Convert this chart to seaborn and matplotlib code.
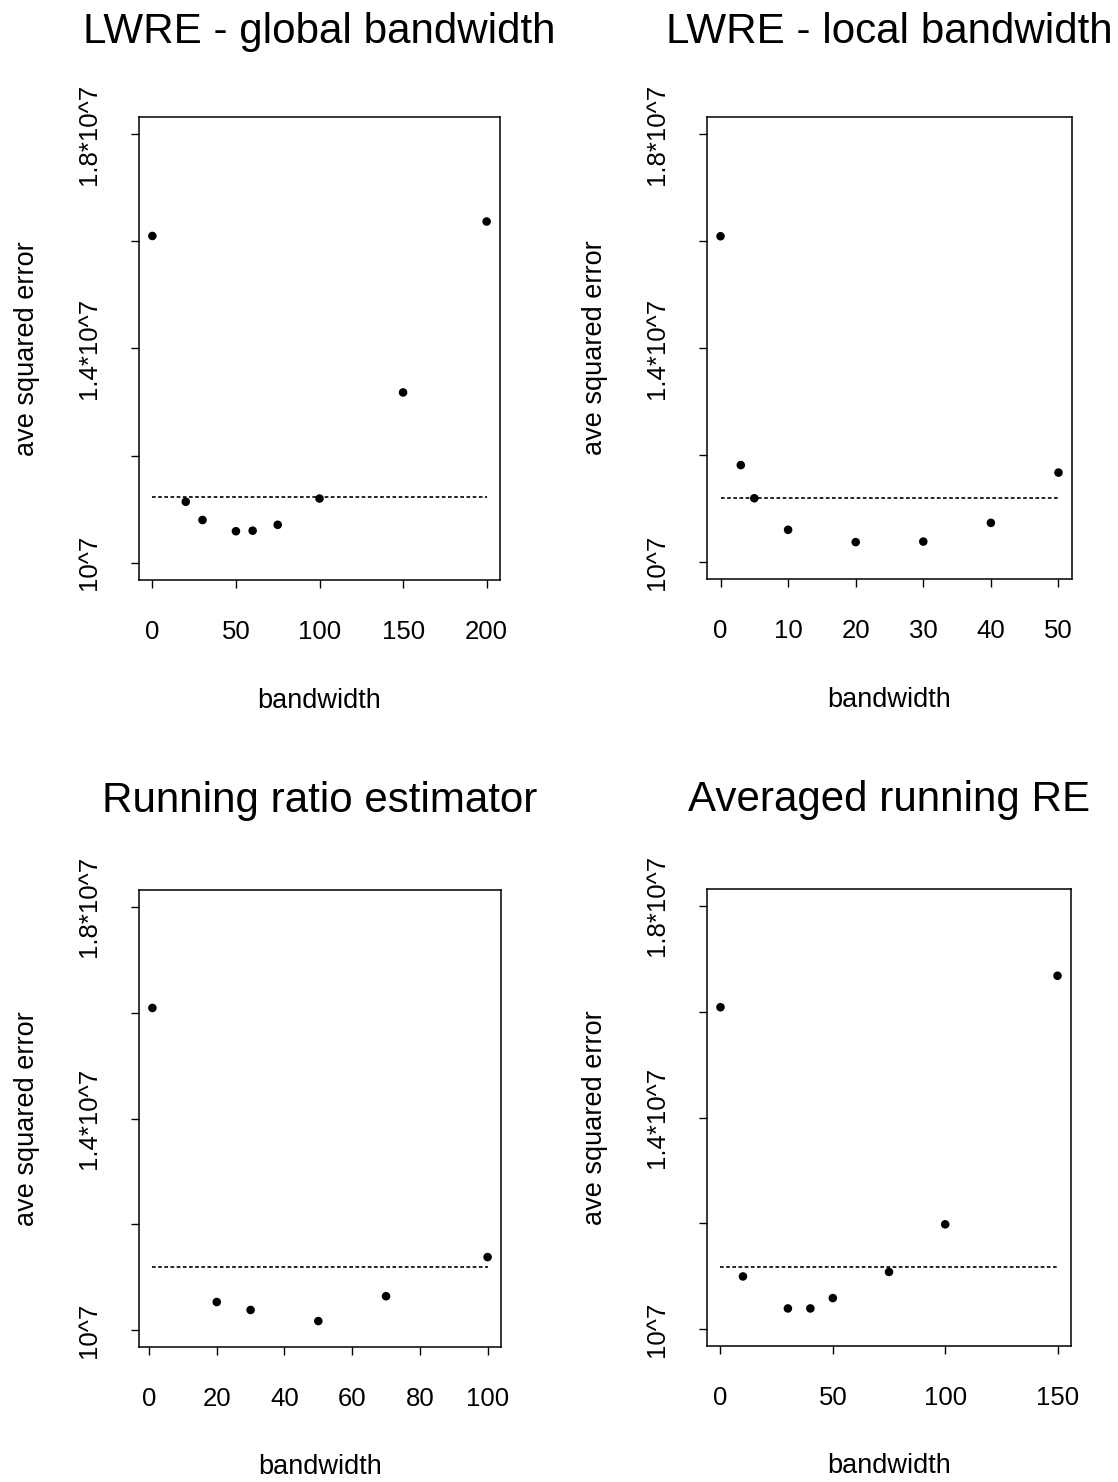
import matplotlib
matplotlib.use("Agg")
import matplotlib.pyplot as plt
import seaborn as sns
import pandas as pd

# ---------------- data ----------------
titles = ["LWRE - global bandwidth", "LWRE - local bandwidth",
          "Running ratio estimator", "Averaged running RE"]

bw_global = [0, 20, 30, 50, 60, 75, 100, 150, 200]
ase_global = [1.610e7, 1.114e7, 1.080e7, 1.059e7, 1.060e7, 1.071e7, 1.120e7, 1.318e7, 1.637e7]

bw_local = [0, 3, 5, 10, 20, 30, 40, 50]
ase_local = [1.609e7, 1.181e7, 1.119e7, 1.060e7, 1.037e7, 1.038e7, 1.073e7, 1.167e7]

bw_running = [1, 20, 30, 50, 70, 100]
ase_running = [1.609e7, 1.053e7, 1.038e7, 1.017e7, 1.064e7, 1.138e7]

bw_avg = [0, 10, 30, 40, 50, 75, 100, 150]
ase_avg = [1.6085e7, 1.0995e7, 1.039e7, 1.039e7, 1.0586e7, 1.108e7, 1.198e7, 1.668e7]

reference_level = [1.122e7, 1.120e7, 1.120e7, 1.118e7]

xticks_list = [[0, 50, 100, 150, 200],
               [0, 10, 20, 30, 40, 50],
               [0, 20, 40, 60, 80, 100],
               [0, 50, 100, 150]]
yticks = [1.0e7, 1.2e7, 1.4e7, 1.6e7, 1.8e7]
ytick_labels = ["10^7", "", "1.4*10^7", "", "1.8*10^7"]
ylim_data = (1.0e7, 1.8e7)

xs = [bw_global, bw_local, bw_running, bw_avg]
ys = [ase_global, ase_local, ase_running, ase_avg]

# ---------------- style ----------------
sns.set_theme(style="ticks")
plt.rcParams["font.family"] = ["Liberation Sans", "DejaVu Sans"]
plt.rcParams.update({
    "axes.edgecolor": "black",
    "axes.linewidth": 1.1,
    "xtick.color": "black",
    "ytick.color": "black",
    "text.color": "black",
    "axes.labelcolor": "black",
})

W, H = 1118, 1482
fig = plt.figure(figsize=(W / 100, H / 100), dpi=100)

# axes boxes in pixels: left, top, right, bottom
boxes = [(139, 117, 500, 580),
         (707, 117, 1072, 579),
         (139, 890, 501, 1347),
         (707, 889, 1071, 1346)]
xlabel_offset_px = [108, 108, 107, 107]
title_pad = [53, 53, 56, 56]

for i in range(4):
    l, t, r, b = boxes[i]
    ax = fig.add_axes([l / W, 1 - b / H, (r - l) / W, (b - t) / H])
    df = pd.DataFrame({"bandwidth": xs[i], "ase": ys[i]})
    sns.scatterplot(data=df, x="bandwidth", y="ase", ax=ax, color="black",
                    s=38, edgecolor="none", zorder=3)
    xmin, xmax = min(xs[i]), max(xs[i])
    ref = pd.DataFrame({"bandwidth": [xmin, xmax],
                        "ase": [reference_level[i], reference_level[i]]})
    sns.lineplot(data=ref, x="bandwidth", y="ase", ax=ax, color="black",
                 lw=1.2, linestyle=(0, (2.2, 1.5)))
    xr = xmax - xmin
    ax.set_xlim(xmin - 0.04 * xr, xmax + 0.04 * xr)
    yr = ylim_data[1] - ylim_data[0]
    ax.set_ylim(ylim_data[0] - 0.04 * yr, ylim_data[1] + 0.04 * yr)

    ax.set_xticks(xticks_list[i])
    ax.set_xticklabels([str(v) for v in xticks_list[i]])
    ax.set_yticks(yticks)
    ax.set_yticklabels(ytick_labels)
    ax.tick_params(axis="x", length=6, width=1.0, pad=23, labelsize=18.5)
    ax.tick_params(axis="y", length=5.5, width=1.0, pad=21.5, labelsize=18.5)
    for lab in ax.get_yticklabels():
        lab.set_rotation(90)
        lab.set_va("center")

    for sp in ax.spines.values():
        sp.set_visible(True)
        sp.set_linewidth(1.1)

    ax.set_xlabel("bandwidth", fontsize=19.5)
    ax.set_ylabel("ave squared error", fontsize=19.5)
    ax.xaxis.set_label_coords(0.5, -xlabel_offset_px[i] / (b - t))
    ax.yaxis.set_label_coords(-99 / (r - l), 0.5)
    ax.set_title(titles[i], fontsize=30.3, pad=title_pad[i])

fig.savefig("out.png", dpi=100, facecolor="white")
